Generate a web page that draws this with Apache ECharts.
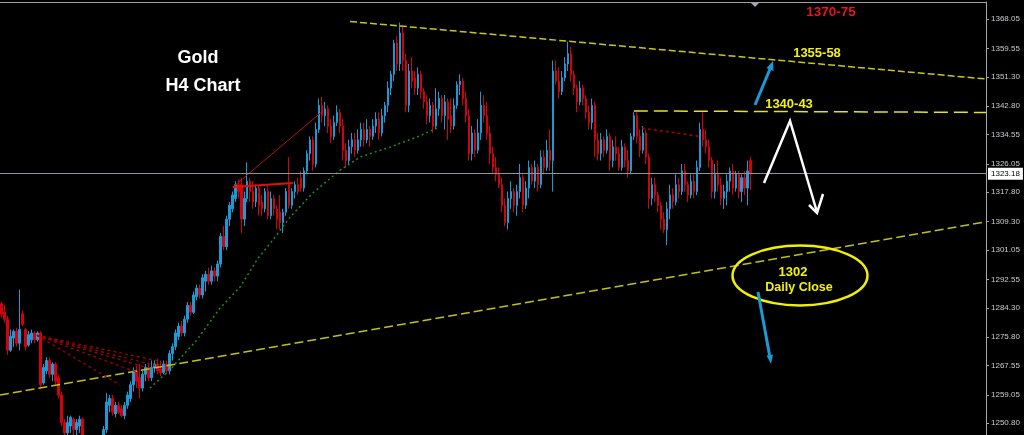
<!DOCTYPE html>
<html>
<head>
<meta charset="utf-8">
<script src="https://cdn.jsdelivr.net/npm/echarts@6/dist/echarts.min.js"></script>
<style>
html,body{margin:0;padding:0;background:#000;}
#c{width:1024px;height:435px;}
</style>
</head>
<body>
<div id="c"></div>
<script>
// ---- price axis tick labels ----
const priceTicks = [1250.80,1259.05,1267.55,1275.80,1284.30,1292.55,1301.05,1309.30,1317.80,1326.05,1334.55,1342.80,1351.30,1359.55,1368.05];
const lastPrice = 1323.18;
const slots = 329; // bar slots on the time axis (incl. empty space on the right)

// ---- H4 candles [open, close, low, high] ----
const barsA = [
[1285.5,1282.5,1281.5,1286],[1283,1281,1280,1285],[1281,1272,1270.6,1282],[1272,1276,1271.5,1278],[1275.5,1277.5,1273,1278],
[1277.5,1274,1273,1278.5],[1274,1278,1272,1289.5],[1282.5,1279.5,1279,1283.5],[1278,1273,1272,1278.5],[1273.5,1276.5,1273,1277.5],
[1275,1277,1274,1278],[1277,1275,1274,1277.5],[1275,1277,1274.5,1277.5],[1277,1262,1261,1277.5],[1262.5,1267,1262,1268],
[1266,1269,1265,1270],[1269,1265,1264,1270],[1265,1268,1263,1268.5],[1268,1263,1262,1268.5],[1264,1259,1258,1265],
[1259,1251,1250,1260],[1251,1248,1246,1252],[1248,1251,1245,1253],[1250,1252.5,1248,1253],[1252,1249,1247,1252.5],
[1249,1251,1246,1252],[1250,1252,1248,1253],[1252,1247,1244,1252.5],[1247,1244,1240,1247.2],[1244,1241,1239,1245],
[1241,1243,1238,1245],[1243,1245,1241,1246.5],[1245,1242,1240,1246],[1242,1245,1241,1246.5],[1244,1249,1243,1250],
[1249,1257,1248,1259.6],[1256,1258,1254,1259],[1258,1254,1253,1259],[1253.5,1256,1252.5,1257],[1256,1254,1253.5,1257],
[1255,1253,1252.5,1256],[1253,1256,1252,1257],[1256,1259,1255,1260],[1258,1262,1257,1263],[1262,1266,1260,1267],
[1266,1263,1261,1267.5],[1264,1261,1258,1268],[1261,1265,1260,1266],[1265,1267,1263,1268],[1267,1264,1263,1268]
];
const barsB = [
[1264,1267,1263,1269],[1267,1268,1265.5,1269],[1268,1266,1265,1269.5],[1266.5,1265.5,1264.5,1269],[1265.5,1268,1265,1269],
[1268,1266,1265,1269],[1266,1271,1265,1272],[1271,1273,1269,1274],[1273,1277,1272,1278],[1276,1279,1275,1280],
[1279,1277,1276,1280.5],[1277,1281,1276,1282],[1281,1285,1280,1286],[1285,1283,1282,1286],[1283,1288,1282.5,1289],
[1287.5,1290,1286.5,1291],[1290,1288,1287,1291],[1288,1293,1287,1294],[1292,1294,1289,1295],[1294,1292,1291,1296],
[1292,1295,1291,1296.5],[1295,1293.5,1292,1296],[1293.5,1297,1292,1298],[1297,1305,1296,1306],[1305,1302,1301,1308],
[1302,1310,1301,1311],[1310,1314,1308,1315],[1313,1317,1312,1318],[1316,1320,1315,1321],[1320,1318,1316,1321.5],
[1320,1310,1306,1322],[1310,1316,1308,1318],[1316,1321,1315,1326.5],[1321,1318,1315,1322],[1318,1315,1313,1321],
[1315,1319,1313.5,1320],[1319,1314,1311,1320],[1315,1313,1311,1317],[1313,1318,1312,1319],[1318,1311,1310,1320],
[1311,1316,1310,1318],[1316,1313,1311,1317],[1313,1310,1307,1314],[1312,1309,1307,1317],[1309,1312,1306,1313],
[1312,1318,1311,1319],[1320,1314,1313,1328],[1314,1318,1313,1319],[1318,1320,1316,1321],[1320,1318,1317,1322]
];
const barsC = [
[1322,1319,1318,1324],[1319,1324,1318,1325],[1324,1329,1323,1330],[1329,1333,1327,1334],[1333,1326,1324,1334],
[1326,1336,1325,1338],[1336,1343,1335,1345],[1343,1340,1338,1345.5],[1340,1342,1337,1344],[1342,1337,1335,1343],
[1337,1334,1332,1339],[1334,1338,1333,1340],[1338,1341,1337,1343],[1341,1337,1335,1342],[1337,1330,1327,1339],
[1330,1327,1325,1332],[1327,1331,1326,1333],[1331,1333,1329,1335],[1333,1330,1328,1335],[1330,1333,1329,1336],
[1333,1336,1331,1338],[1336,1333,1331,1338],[1333,1336,1332,1339],[1336,1334,1331,1337],[1334,1337,1333,1339],
[1337,1339,1335,1341],[1339,1335,1333,1341],[1335,1340,1334,1342],[1340,1343,1338,1344],[1343,1348,1341,1350],
[1348,1352,1346,1353],[1352,1361,1350,1362],[1361,1355,1353,1363],[1355,1364,1353,1367],[1364,1356,1353,1366],
[1356,1343,1341,1358],[1343,1353,1341,1355],[1353,1350,1348,1357],[1351,1348,1346,1353],[1348,1352,1346,1354],
[1352,1347,1345,1353],[1347,1344,1342,1348],[1344,1340,1337.5,1346],[1340,1343,1338,1345],[1343,1337,1335,1344],
[1337,1342,1336,1348],[1342,1345,1340,1347],[1345,1340,1338,1346],[1340,1344,1336,1346],[1344,1339,1333,1345]
];
const barsD = [
[1340,1337,1335,1345],[1337,1343,1336,1345],[1343,1349,1342,1350],[1349,1350,1346,1352],[1350,1345,1343,1351],
[1345,1340,1338,1347],[1340,1329,1327,1342],[1329,1335,1327,1337],[1335,1330,1328,1336],[1330,1335,1329,1339],
[1335,1343,1333,1347],[1343,1340,1338,1346],[1340,1335,1333,1344],[1335,1329,1326,1337],[1329,1325,1323,1331],
[1325,1323,1321,1328],[1323,1320,1319,1325],[1320,1314,1312,1322],[1314,1309,1308,1316],[1309,1316,1307,1318],
[1316,1318,1313,1321],[1318,1314,1312,1319],[1314,1318,1311,1320],[1318,1322,1316,1326],[1322,1314,1312,1323],
[1314,1319,1313,1321],[1319,1325,1316,1327],[1325,1321,1320,1326],[1321,1325,1319,1327],[1325,1320,1318,1326],
[1320,1328,1319,1330],[1328,1325,1323,1330],[1325,1330,1324,1333],[1330,1327,1324,1336],[1327,1353,1318,1356],
[1353,1350,1349,1356],[1350,1347,1345,1354],[1347,1351,1346,1353],[1351,1355,1350,1357],[1355,1358,1353,1361.5],
[1358,1352,1350,1360],[1352,1348,1346,1353],[1348,1344,1341,1349],[1344,1348,1343,1350],[1348,1345,1343,1349],
[1345,1341,1339,1346],[1341,1338,1336,1343],[1338,1343,1336,1345],[1343,1333,1328,1344],[1333,1329,1327,1335]
];
const barsE = [
[1329,1333,1327,1335],[1333,1330,1328,1334],[1330,1334,1329,1336],[1334,1327,1324,1335],[1327,1331,1325,1333],
[1331,1329,1327,1334],[1329,1325,1324,1331],[1325,1331,1324,1333],[1331,1327,1325,1332],[1327,1324,1322,1330],
[1324,1334,1323,1335],[1334,1340,1333,1341],[1340,1334,1332,1341],[1334,1330,1328,1336],[1330,1335,1329,1337],
[1335,1328,1326,1336],[1328,1316,1313,1329],[1316,1320,1314,1322],[1320,1317,1315,1322],[1317,1314,1312,1318],
[1314,1310,1307,1315],[1310,1307,1306,1312],[1307,1313,1302.5,1315],[1313,1317,1310,1320],[1317,1315,1313,1319],
[1315,1320,1314,1323],[1320,1318,1316,1322],[1318,1324,1317,1326],[1324,1320,1318,1326],[1320,1317,1315,1321],
[1317,1321,1316,1323],[1321,1318,1316,1323],[1318,1325,1317,1327],[1325,1336,1324,1338],[1336,1333,1331,1341],
[1333,1331,1329,1336],[1331,1327,1325,1333],[1327,1318,1316,1328],[1318,1323,1316,1326],[1323,1320,1318,1327],
[1320,1316,1314,1322],[1316,1318,1313,1320],[1318,1321,1314,1323],[1321,1324,1318,1325],[1324,1319,1317,1326],
[1319,1323,1318,1324],[1323,1318,1316,1324],[1318,1322,1315,1323],[1322,1319,1317,1324],[1319,1324,1314,1327],
[1327,1323.18,1318.5,1328]
];

// ---- drawn objects, in [bar index, price] ----
const upperTrend = [[116.3,1367.33],[328.5,1350.65]];
const resistance = [[211.0,1341.4],[328.5,1340.95]];
const lowerTrend = [[-0.5,1258.99],[328.5,1309.27]];
const greenCurve = [[49.5,1261.0],[56.2,1266.3],[65.2,1275.0],[72.9,1284.2],[79.6,1290.3],[85.6,1298.7],[90.6,1304.0],[96.3,1310.6],[103.9,1317.6],[113.0,1324.2],[119.6,1328.0],[129.6,1330.9],[138.6,1333.8],[145.3,1336.4]];
const fanOrigin = [11.85,1276.3];
const fanEnds = [[52.9,1268.8],[51.2,1267.6],[47.9,1267.1],[45.2,1265.6],[39.5,1261.9]];
const redRise = [[77.2,1319.3],[107.4,1341.5]];
const redFlat = [[77.2,1319.3],[97.3,1320.5]];
const redDotted = [[213.7,1336.4],[233.1,1334.0]];

const candles = barsA.concat(barsB, barsC, barsD, barsE);
const cats = Array.from({length: slots}, (_, i) => String(i));

const FONT = '"Liberation Sans", Arial, sans-serif';
const chart = echarts.init(document.getElementById('c'), null, {renderer: 'canvas'});

function lineSeries(data, color, type, width, z) {
  return {
    type: 'line', xAxisIndex: 1, yAxisIndex: 0, data: data,
    showSymbol: false, symbol: 'none', silent: true, animation: false, z: z || 3,
    lineStyle: {color: color, type: type, width: width}
  };
}

const series = [
  {
    type: 'candlestick', data: candles, xAxisIndex: 0, yAxisIndex: 0,
    barWidth: 2, animation: false, z: 2,
    itemStyle: {color: '#1b9ad8', color0: '#d8000a', borderColor: '#1b9ad8', borderColor0: '#d8000a', borderWidth: 1},
    markLine: {
      symbol: 'none', silent: true, animation: false,
      data: [{yAxis: lastPrice}],
      lineStyle: {color: '#8a949e', width: 1, type: 'solid'},
      label: {position: 'end', distance: 2, formatter: () => lastPrice.toFixed(2),
        backgroundColor: '#ffffff', color: '#000', fontSize: 8, fontFamily: FONT, padding: [2, 3, 2, 3]}
    }
  },
  lineSeries(upperTrend, '#c8c814', [7, 3], 1.5),
  lineSeries(resistance, '#e4e41c', [14, 6], 1.5),
  lineSeries(lowerTrend, '#c0c01a', [9, 4], 1.5),
  lineSeries(greenCurve, '#1e8c1e', [2, 3], 1.5),
  lineSeries(redRise, '#c01010', 'solid', 1),
  lineSeries(redFlat, '#e01010', 'solid', 2),
  lineSeries(redDotted, '#b00000', [3, 3], 1.5)
];
fanEnds.forEach(e => series.push(lineSeries([fanOrigin, e], '#a80000', [3, 3], 1.2)));

function arrowHead(tip, base1, base2, color) {
  return {type: 'polygon', shape: {points: [tip, base1, base2]}, style: {fill: color}, z: 100};
}

chart.setOption({
  backgroundColor: '#000000',
  animation: false,
  grid: {left: 0, right: 38, top: 2, bottom: 0, containLabel: false},
  xAxis: [
    {type: 'category', data: cats, position: 'top', boundaryGap: true,
     axisLine: {show: true, onZero: false, lineStyle: {color: '#9aa0a6', width: 1}},
     axisTick: {show: false}, axisLabel: {show: false}, splitLine: {show: false}},
    {type: 'value', min: -0.5, max: slots - 0.5, show: false}
  ],
  yAxis: {
    type: 'value', position: 'right', min: 1247.40, max: 1372.98, scale: true,
    axisLine: {show: true, onZero: false, lineStyle: {color: '#a8a8a8', width: 1}},
    axisTick: {show: true, length: 3, customValues: priceTicks, lineStyle: {color: '#a8a8a8'}},
    axisLabel: {customValues: priceTicks, formatter: v => v.toFixed(2), color: '#c8ccd0', fontSize: 8, fontFamily: FONT, margin: 5},
    splitLine: {show: false}
  },
  series: series,
  graphic: [
    {type: 'text', x: 198, y: 58, style: {text: 'Gold', fill: '#ffffff', font: 'bold 18px ' + FONT, align: 'center', verticalAlign: 'middle', textAlign: 'center', textVerticalAlign: 'middle'}, z: 100},
    {type: 'text', x: 203, y: 86, style: {text: 'H4 Chart', fill: '#ffffff', font: 'bold 18px ' + FONT, align: 'center', verticalAlign: 'middle', textAlign: 'center', textVerticalAlign: 'middle'}, z: 100},
    {type: 'text', x: 831, y: 12, style: {text: '1370-75', fill: '#e8141e', font: 'bold 13.5px ' + FONT, align: 'center', verticalAlign: 'middle', textAlign: 'center', textVerticalAlign: 'middle'}, z: 100},
    {type: 'text', x: 817, y: 53, style: {text: '1355-58', fill: '#f2f20a', font: 'bold 13px ' + FONT, align: 'center', verticalAlign: 'middle', textAlign: 'center', textVerticalAlign: 'middle'}, z: 100},
    {type: 'text', x: 789, y: 104, style: {text: '1340-43', fill: '#f2f20a', font: 'bold 13px ' + FONT, align: 'center', verticalAlign: 'middle', textAlign: 'center', textVerticalAlign: 'middle'}, z: 100},
    {type: 'text', x: 793, y: 272, style: {text: '1302', fill: '#f2f20a', font: 'bold 13px ' + FONT, align: 'center', verticalAlign: 'middle', textAlign: 'center', textVerticalAlign: 'middle'}, z: 100},
    {type: 'text', x: 799, y: 288, style: {text: 'Daily Close', fill: '#f2f20a', font: 'bold 12.5px ' + FONT, align: 'center', verticalAlign: 'middle', textAlign: 'center', textVerticalAlign: 'middle'}, z: 100},
    {type: 'ellipse', shape: {cx: 800, cy: 275.5, rx: 67.5, ry: 30}, style: {fill: 'none', stroke: '#f0f000', lineWidth: 2.5}, z: 100},
    // blue up arrow
    {type: 'line', shape: {x1: 755, y1: 105, x2: 770, y2: 69}, style: {stroke: '#1b9ad8', lineWidth: 3}, z: 100},
    arrowHead([773, 61], [773.5, 71], [766.5, 68], '#1b9ad8'),
    // blue down arrow
    {type: 'line', shape: {x1: 758, y1: 292, x2: 769.5, y2: 355}, style: {stroke: '#1b9ad8', lineWidth: 3}, z: 100},
    arrowHead([771, 364], [773, 354.5], [766.5, 355.5], '#1b9ad8'),
    // white zigzag arrow
    {type: 'polyline', shape: {points: [[764, 183], [790, 121], [817, 212]]}, style: {stroke: '#ffffff', lineWidth: 2.5, fill: 'none'}, z: 100},
    {type: 'polyline', shape: {points: [[809, 205], [817, 213], [823, 194]]}, style: {stroke: '#ffffff', lineWidth: 2.5, fill: 'none'}, z: 100},
    // chart shift marker
    {type: 'polygon', shape: {points: [[751, 3], [759, 3], [755, 7]]}, style: {fill: '#a0a8b4'}, z: 100}
  ]
});
</script>
</body>
</html>
